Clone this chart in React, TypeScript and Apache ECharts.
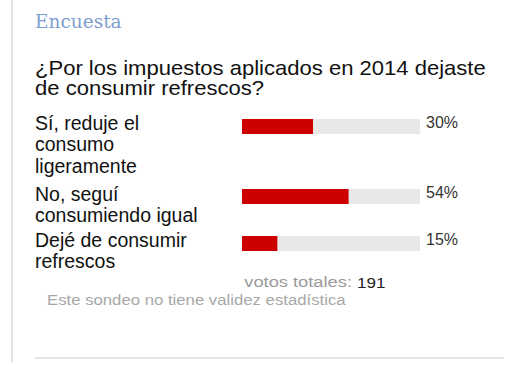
import React, { useEffect, useRef } from "react";
import * as echarts from "echarts";

const title = "Encuesta";
const question = ["¿Por los impuestos aplicados en 2014 dejaste", "de consumir refrescos?"];
const categories = [
  "Sí, reduje el\nconsumo\nligeramente",
  "No, seguí\nconsumiendo igual",
  "Dejé de consumir\nrefrescos",
];
const percentages = [30, 54, 15];
// bar length as drawn in the picture, in % of the track
const barFill = [40, 60, 20];
const totalLabel = "votos totales:";
const totalVotes = 191;
const footnote = "Este sondeo no tiene validez estadística";

const SANS = "'Liberation Sans', Arial, sans-serif";

export default function App() {
  const ref = useRef<HTMLDivElement>(null);
  useEffect(() => {
    if (!ref.current) return;
    const chart = echarts.init(ref.current, null, { renderer: "svg" });
    const gridTops = [119, 189, 236];
    const labelTops = [112, 183, 229];
    const grids = gridTops.map((t) => ({ left: 242, width: 178, top: t, height: 15 }));
    const xAxes = gridTops.map((_, i) => ({
      type: "value",
      gridIndex: i,
      min: 0,
      max: 100,
      show: false,
    }));
    const yAxes = gridTops.map((_, i) => ({
      type: "category",
      gridIndex: i,
      data: [categories[i]],
      show: false,
    }));
    const series: any[] = [];
    gridTops.forEach((_, i) => {
      series.push({
        type: "bar",
        xAxisIndex: i,
        yAxisIndex: i,
        stack: "s" + i,
        data: [barFill[i]],
        barWidth: 15,
        itemStyle: { color: "#cc0000" },
        silent: true,
      });
      series.push({
        type: "bar",
        xAxisIndex: i,
        yAxisIndex: i,
        stack: "s" + i,
        data: [100 - barFill[i]],
        barWidth: 15,
        itemStyle: { color: "#e8e8e8" },
        silent: true,
        label: {
          show: true,
          position: "right",
          distance: 6,
          offset: [0, -4],
          formatter: () => percentages[i] + "%",
          fontFamily: SANS,
          fontSize: 16,
          color: "#333333",
        },
      });
    });
    const graphics: any[] = [
      { type: "rect", shape: { x: 11, y: 0, width: 2, height: 362 }, style: { fill: "#e2e2e2" } },
      { type: "rect", shape: { x: 35, y: 357, width: 469, height: 2 }, style: { fill: "#e6e6e6" } },
      {
        type: "text",
        x: 35,
        y: 21,
        style: {
          text: title,
          fontFamily: "'DejaVu Serif', serif",
          fontSize: 18.5,
          fill: "#7c9ed0",
          verticalAlign: "middle",
        },
      },
      {
        type: "text",
        x: 35,
        y: 58,
        scaleX: 1.05,
        style: {
          text: question.join("\n"),
          fontFamily: SANS,
          fontSize: 21,
          lineHeight: 20,
          fill: "#111111",
          verticalAlign: "top",
        },
      },
      ...categories.map((c, i) => ({
        type: "text",
        x: 35,
        y: labelTops[i],
        style: {
          text: c,
          fontFamily: SANS,
          fontSize: 19.5,
          lineHeight: 21.5,
          fill: "#111111",
          verticalAlign: "top",
        },
      })),
      {
        type: "text",
        x: 352,
        y: 282,
        scaleX: 1.22,
        style: {
          text: totalLabel,
          fontFamily: SANS,
          fontSize: 15,
          fill: "#9a9a9a",
          align: "right",
          verticalAlign: "middle",
        },
      },
      {
        type: "text",
        x: 357,
        y: 282,
        scaleX: 1.1,
        style: {
          text: String(totalVotes),
          fontFamily: SANS,
          fontSize: 15.5,
          fill: "#222222",
          verticalAlign: "middle",
        },
      },
      {
        type: "text",
        x: 47,
        y: 299,
        scaleX: 1.08,
        style: {
          text: footnote,
          fontFamily: SANS,
          fontSize: 15.5,
          fill: "#a8a8a8",
          verticalAlign: "middle",
        },
      },
    ];
    chart.setOption({
      animation: false,
      grid: grids,
      xAxis: xAxes,
      yAxis: yAxes,
      series,
      graphic: graphics,
    });
    return () => chart.dispose();
  }, []);
  return <div ref={ref} style={{ width: 518, height: 365, position: "absolute", left: 0, top: 0, background: "#fff" }} />;
}
